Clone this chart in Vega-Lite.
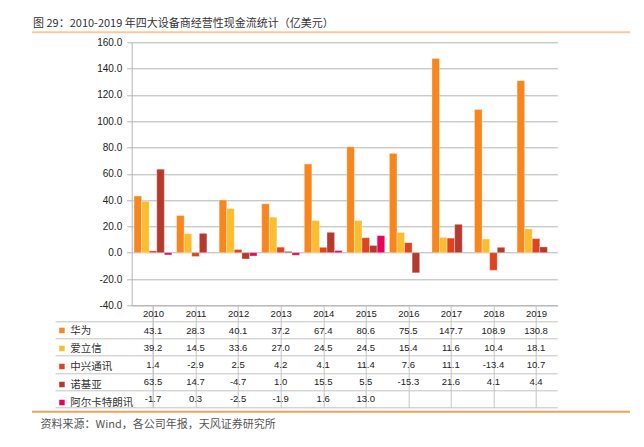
{
  "$schema": "https://vega.github.io/schema/vega-lite/v6.json",
  "width": 425.6,
  "height": 263,
  "autosize": "none",
  "padding": {"left": 131.7, "top": 42.3, "right": 86.7, "bottom": 141.7},
  "background": "white",
  "title": {
    "text": "图 29：2010-2019 年四大设备商经营性现金流统计（亿美元）",
    "anchor": "start",
    "frame": "group",
    "dx": -98.7,
    "dy": 12,
    "offset": 14,
    "font": "Noto Sans CJK SC",
    "fontSize": 11,
    "fontWeight": "normal",
    "color": "#333333"
  },
  "datasets": {
    "cf": [
      {"year": "2010", "company": "华为", "value": 43.1},
      {"year": "2011", "company": "华为", "value": 28.3},
      {"year": "2012", "company": "华为", "value": 40.1},
      {"year": "2013", "company": "华为", "value": 37.2},
      {"year": "2014", "company": "华为", "value": 67.4},
      {"year": "2015", "company": "华为", "value": 80.6},
      {"year": "2016", "company": "华为", "value": 75.5},
      {"year": "2017", "company": "华为", "value": 147.7},
      {"year": "2018", "company": "华为", "value": 108.9},
      {"year": "2019", "company": "华为", "value": 130.8},
      {"year": "2010", "company": "爱立信", "value": 39.2},
      {"year": "2011", "company": "爱立信", "value": 14.5},
      {"year": "2012", "company": "爱立信", "value": 33.6},
      {"year": "2013", "company": "爱立信", "value": 27.0},
      {"year": "2014", "company": "爱立信", "value": 24.5},
      {"year": "2015", "company": "爱立信", "value": 24.5},
      {"year": "2016", "company": "爱立信", "value": 15.4},
      {"year": "2017", "company": "爱立信", "value": 11.6},
      {"year": "2018", "company": "爱立信", "value": 10.4},
      {"year": "2019", "company": "爱立信", "value": 18.1},
      {"year": "2010", "company": "中兴通讯", "value": 1.4},
      {"year": "2011", "company": "中兴通讯", "value": -2.9},
      {"year": "2012", "company": "中兴通讯", "value": 2.5},
      {"year": "2013", "company": "中兴通讯", "value": 4.2},
      {"year": "2014", "company": "中兴通讯", "value": 4.1},
      {"year": "2015", "company": "中兴通讯", "value": 11.4},
      {"year": "2016", "company": "中兴通讯", "value": 7.6},
      {"year": "2017", "company": "中兴通讯", "value": 11.1},
      {"year": "2018", "company": "中兴通讯", "value": -13.4},
      {"year": "2019", "company": "中兴通讯", "value": 10.7},
      {"year": "2010", "company": "诺基亚", "value": 63.5},
      {"year": "2011", "company": "诺基亚", "value": 14.7},
      {"year": "2012", "company": "诺基亚", "value": -4.7},
      {"year": "2013", "company": "诺基亚", "value": 1.0},
      {"year": "2014", "company": "诺基亚", "value": 15.5},
      {"year": "2015", "company": "诺基亚", "value": 5.5},
      {"year": "2016", "company": "诺基亚", "value": -15.3},
      {"year": "2017", "company": "诺基亚", "value": 21.6},
      {"year": "2018", "company": "诺基亚", "value": 4.1},
      {"year": "2019", "company": "诺基亚", "value": 4.4},
      {"year": "2010", "company": "阿尔卡特朗讯", "value": -1.7},
      {"year": "2011", "company": "阿尔卡特朗讯", "value": 0.3},
      {"year": "2012", "company": "阿尔卡特朗讯", "value": -2.5},
      {"year": "2013", "company": "阿尔卡特朗讯", "value": -1.9},
      {"year": "2014", "company": "阿尔卡特朗讯", "value": 1.6},
      {"year": "2015", "company": "阿尔卡特朗讯", "value": 13.0}
    ]
  },
  "layer": [
    {
      "data": {"name": "cf"},
      "mark": {"type": "bar", "stroke": "#ffffff", "strokeOpacity": 0.55, "strokeWidth": 0.6},
      "encoding": {
        "x": {
          "field": "year", "type": "nominal",
          "scale": {"paddingInner": 0.11, "paddingOuter": 0.055},
          "axis": null
        },
        "xOffset": {
          "field": "company", "type": "nominal",
          "scale": {"domain": ["华为", "爱立信", "中兴通讯", "诺基亚", "阿尔卡特朗讯"], "paddingInner": 0, "paddingOuter": 0}
        },
        "y": {
          "field": "value", "type": "quantitative",
          "scale": {"domain": [-40, 160], "nice": false, "zero": false},
          "axis": {
            "orient": "left",
            "title": null,
            "values": [-40, -20, 0, 20, 40, 60, 80, 100, 120, 140, 160],
            "format": ".1f",
            "grid": true,
            "gridColor": "#b4b4b4",
            "gridWidth": 1,
            "domain": true,
            "domainColor": "#b4b4b4",
            "ticks": true,
            "tickSize": 5,
            "tickColor": "#b4b4b4",
            "labelPadding": 5,
            "labelFont": "Liberation Sans",
            "labelFontSize": 10,
            "labelColor": "#222222"
          }
        },
        "color": {
          "field": "company", "type": "nominal",
          "scale": {
            "domain": ["华为", "爱立信", "中兴通讯", "诺基亚", "阿尔卡特朗讯"],
            "range": ["#F7861F", "#FBBD2F", "#DE4420", "#B43A2E", "#E8045A"]
          },
          "legend": {
            "orient": "none",
            "legendX": -75,
            "legendY": 279.7,
            "title": null,
            "padding": 0,
            "symbolType": "square",
            "symbolSize": 30,
            "symbolStrokeWidth": 0,
            "labelFont": "Noto Sans CJK SC",
            "labelFontSize": 10.5,
            "labelColor": "#333333",
            "labelOffset": 3,
            "rowPadding": 0,
            "clipHeight": 17.07
          }
        }
      }
    },
    {
      "data": {"name": "cf"},
      "mark": {"type": "text", "font": "Liberation Sans", "fontSize": 9.5, "color": "#222222"},
      "encoding": {
        "x": {
          "field": "year", "type": "nominal",
          "scale": {"paddingInner": 0, "paddingOuter": 0},
          "axis": {
            "orient": "bottom",
            "labelAngle": 0,
            "labelFont": "Liberation Sans",
            "labelFontSize": 9.5,
            "labelColor": "#222222",
            "labelBaseline": "middle",
            "labelPadding": -94,
            "domain": true,
            "domainColor": "#b4b4b4",
            "ticks": true,
            "tickSize": 102.4,
            "tickColor": "#c4c4c4",
            "bandPosition": 1,
            "tickExtra": true,
            "grid": false,
            "title": "资料来源：Wind，各公司年报，天风证券研究所",
            "titleX": -91.7,
            "titleY": 118.7,
            "titleAlign": "left",
            "titleBaseline": "middle",
            "titleFont": "Noto Sans CJK SC",
            "titleFontSize": 11,
            "titleFontWeight": "normal",
            "titleColor": "#555555"
          }
        },
        "y": {
          "field": "company", "type": "nominal",
          "scale": {
            "type": "band",
            "domain": ["华为", "爱立信", "中兴通讯", "诺基亚", "阿尔卡特朗讯"],
            "range": [279.7, 365.4],
            "paddingInner": 0, "paddingOuter": 0
          },
          "axis": {
            "orient": "left",
            "title": null,
            "labels": false,
            "domain": false,
            "ticks": true,
            "tickSize": 76.7,
            "tickColor": "#c4c4c4",
            "bandPosition": 1,
            "tickExtra": true,
            "grid": true,
            "gridColor": "#c4c4c4"
          }
        },
        "text": {"field": "value", "type": "quantitative", "format": ".1f"}
      }
    },
    {
      "data": {"values": [{"edge": "top"}, {"edge": "bottom"}]},
      "mark": {"type": "rule", "strokeWidth": 2},
      "encoding": {
        "x": {"datum": 0, "type": "quantitative", "scale": {"domain": [0, 1], "range": [-99.7, 498.3]}, "axis": null},
        "x2": {"datum": 1},
        "y": {
          "field": "edge", "type": "nominal",
          "scale": {"type": "point", "domain": ["top", "bottom"], "range": [-10, 369.4], "padding": 0},
          "axis": null
        },
        "color": {
          "field": "edge", "type": "nominal",
          "scale": {"domain": ["top", "bottom"], "range": ["#FBC89C", "#F4A155"]},
          "legend": null
        }
      }
    }
  ],
  "resolve": {"scale": {"x": "independent", "y": "independent", "color": "independent"}},
  "config": {
    "view": {"stroke": null},
    "locale": {"number": {"decimal": ".", "thousands": ",", "grouping": [3], "currency": ["$", ""], "minus": "-"}}
  }
}
